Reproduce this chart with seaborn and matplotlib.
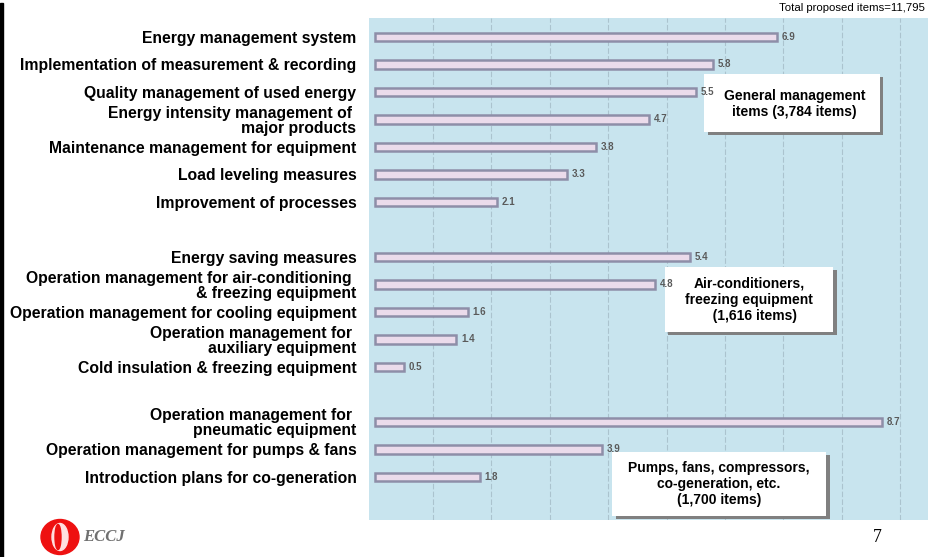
import numpy as np
import pandas as pd
import matplotlib
matplotlib.use("Agg")
import matplotlib.pyplot as plt
import matplotlib.patches as mpatches
import seaborn as sns

# --------------------------------------------
# DATA (share of total proposed items, %)
# --------------------------------------------
general_labels = ["Energy management system",
                  "Implementation of measurement & recording",
                  "Quality management of used energy",
                  "Energy intensity management of \nmajor products",
                  "Maintenance management for equipment",
                  "Load leveling measures",
                  "Improvement of processes"]
general_values = [6.9, 5.8, 5.5, 4.7, 3.8, 3.3, 2.1]

aircon_labels = ["Energy saving measures",
                 "Operation management for air-conditioning \n& freezing equipment",
                 "Operation management for cooling equipment",
                 "Operation management for \nauxiliary equipment",
                 "Cold insulation & freezing equipment"]
aircon_values = [5.4, 4.8, 1.6, 1.4, 0.5]

pumps_labels = ["Operation management for \npneumatic equipment",
                "Operation management for pumps & fans",
                "Introduction plans for co-generation"]
pumps_values = [8.7, 3.9, 1.8]

group_texts = ["General management\nitems (3,784 items)",
               "Air-conditioners,\nfreezing equipment\n   (1,616 items)",
               "Pumps, fans, compressors,\nco-generation, etc.\n(1,700 items)"]

# build one table, leaving one empty slot between groups
labels, values, pos = [], [], []
p = 0
for lab, val in [(general_labels, general_values),
                 (aircon_labels, aircon_values),
                 (pumps_labels, pumps_values)]:
    for l, v in zip(lab, val):
        labels.append(l)
        values.append(v)
        pos.append(p)
        p += 1
    p += 1
df = pd.DataFrame({"label": labels, "value": values, "pos": pos})

# --------------------------------------------
# PLOT
# --------------------------------------------
sns.set_style("white")
plt.rcParams['font.family'] = ['Liberation Sans', 'DejaVu Sans']

fig = plt.figure(figsize=(9.29, 5.57), dpi=100)
ax = fig.add_axes([369 / 929, 1 - 519.5 / 557, 1 - 369 / 929, (519.5 - 18) / 557])
ax.set_facecolor('#c8e4ee')

sns.barplot(data=df, x="value", y="pos", orient="y", native_scale=True,
            width=0.3, color='#eed8ee', edgecolor='#8e8ea8', linewidth=1.8,
            errorbar=None, ax=ax)

for i in range(1, 10):
    ax.axvline(i, color='#abc3ce', lw=0.8, ls=(0, (5, 2)), zorder=0)

for v, y in zip(df["value"], df["pos"]):
    ax.text(v + 0.08, y, f"{v:.1f}", va='center', ha='left',
            fontsize=7, fontweight='bold', color='#5a5a5a', zorder=7)

ax.set_xlim(-0.1, 9.5)
ax.set_ylim(17.55, -0.69)
ax.set_yticks(df["pos"])
ax.set_yticklabels(df["label"], fontsize=11.3, fontweight='bold', color='black')
for t in ax.get_yticklabels():
    t.set_multialignment('right')
    t.set_linespacing(1.0)
ax.set_xticks([])
ax.tick_params(axis='y', length=0, pad=9)
ax.set_xlabel("")
ax.set_ylabel("")
for s in ax.spines.values():
    s.set_visible(False)

# group boxes (white with grey shadow)
boxes = [(5.65, 1.35, 8.66, 3.45, 7.19, 2.45),
         (4.97, 8.36, 7.86, 10.73, 6.41, 9.56),
         (4.07, 15.09, 7.74, 17.42, 5.9, 16.25)]
for txt, (x0, y0, x1, y1, tx, ty) in zip(group_texts, boxes):
    ax.add_patch(mpatches.Rectangle((x0 + 0.06, y0 + 0.12), x1 - x0, y1 - y0,
                                    facecolor='#808080', edgecolor='none', zorder=4))
    ax.add_patch(mpatches.Rectangle((x0, y0), x1 - x0, y1 - y0,
                                    facecolor='white', edgecolor='none', zorder=5))
    ax.text(tx, ty, txt, ha='center', va='center', fontsize=10,
            fontweight='bold', color='black', zorder=6, linespacing=1.2)

fig.text(852 / 929, 1 - 8 / 557, "Total proposed items=11,795",
         ha='center', va='center', fontsize=8.2, color='black')
fig.text(877 / 929, 1 - 537 / 557, "7", ha='center', va='center',
         fontsize=13, family='Liberation Serif', color='black')

# ECCJ logo
fig.add_artist(mpatches.Ellipse((0.60, 0.20), 0.38, 0.35, color='#ee1111',
                                transform=fig.dpi_scale_trans))
fig.add_artist(mpatches.Ellipse((0.60, 0.20), 0.16, 0.27, color='#ffe0e0',
                                transform=fig.dpi_scale_trans))
fig.add_artist(mpatches.Ellipse((0.58, 0.20), 0.06, 0.25, color='#ee1111',
                                transform=fig.dpi_scale_trans))
fig.text(83 / 929, 1 - 537 / 557, "ECCJ", ha='left', va='center', fontsize=12,
         family='Liberation Serif', style='italic', fontweight='bold', color='#707070')

# black left edge
fig.add_artist(mpatches.Rectangle((0, 0), 3 / 929, 554 / 557, color='black',
                                  transform=fig.transFigure))

fig.savefig("out.png", dpi=100)
